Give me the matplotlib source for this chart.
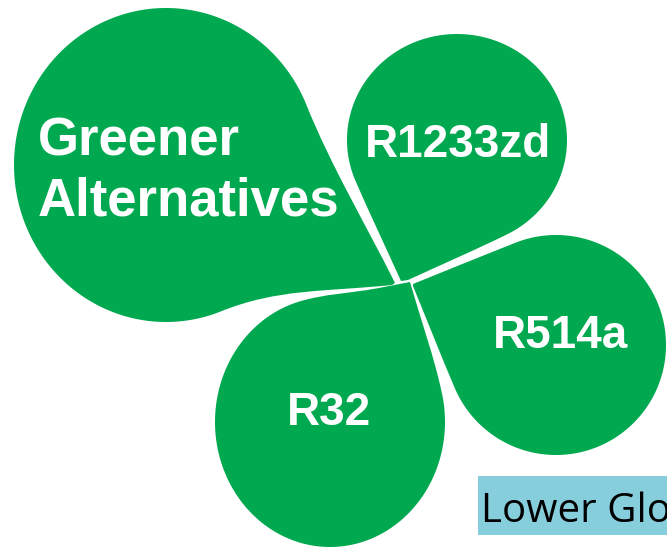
import numpy as np
import matplotlib
matplotlib.use("Agg")
import matplotlib.pyplot as plt
from matplotlib.path import Path
from matplotlib.patches import PathPatch, Rectangle

# ---- text content ----
title_lines = ["Greener", "Alternatives"]
labels = ["R1233zd", "R514a", "R32"]
footer_text = "Lower Global Warming Potential"

GREEN = "#00A84F"
BOX = "#87CEDD"

# ---- layout of the teardrops (pixel coords, y down) ----
# ellipse (cx, cy, rx, ry); two sides: (ellipse param angle deg, tip point, handle at ellipse, handle at tip, tip dir or None)
drops = [
    dict(e=(166, 165, 152, 157),
         sides=[(-22.5, (395, 283), 0.33, 0.33, None),
                (68.7, (392, 285), 0.35, 0.40, (-0.995, 0.10))]),
    dict(e=(457, 140, 110, 106),
         sides=[(157.3, (401, 281), 0.33, 0.33, None),
                (63.1, (408, 280), 0.33, 0.33, None)]),
    dict(e=(556, 345, 110, 110),
         sides=[(-111.5, (413, 284), 0.33, 0.33, None),
                (156.9, (413, 286), 0.33, 0.33, None)]),
    dict(e=(330, 422, 115, 125),
         sides=[(-13.0, (410, 282), 0.33, 0.33, None),
                (-106.4, (384, 287), 0.33, 0.40, (-0.98, 0.20))]),
]


def ell_pt(e, t):
    cx, cy, rx, ry = e
    return np.array([cx + rx * np.cos(t), cy + ry * np.sin(t)])


def side_curve(e, tdeg, tip, h0, h1, tdir):
    t = np.deg2rad(tdeg)
    cx, cy, rx, ry = e
    P = ell_pt(e, t)
    T = np.array(tip, float)
    L = np.linalg.norm(T - P)
    d = np.array([-rx * np.sin(t), ry * np.cos(t)])
    d /= np.linalg.norm(d)
    if np.dot(d, T - P) < 0:
        d = -d
    if tdir is None:
        u = (P - T) / L
    else:
        u = np.array(tdir, float)
        u /= np.linalg.norm(u)
    # cubic from tip to ellipse point
    return [T, T + h1 * L * u, P + h0 * L * d, P]


def drop_path(dr):
    e = dr["e"]
    cx, cy, rx, ry = e
    sA, sB = dr["sides"]
    cA = side_curve(e, *sA)
    cB = side_curve(e, *sB)
    tA = np.deg2rad(sA[0])
    tB = np.deg2rad(sB[0])
    tip = np.mean([np.array(sA[1]), np.array(sB[1])], axis=0)
    ttip = np.arctan2((tip[1] - cy) / ry, (tip[0] - cx) / rx)
    # choose arc direction from tA to tB that avoids ttip
    def contains(a0, a1, x, sgn):
        span = (sgn * (a1 - a0)) % (2 * np.pi)
        pos = (sgn * (x - a0)) % (2 * np.pi)
        return pos < span, span
    inside, span = contains(tA, tB, ttip, +1)
    sgn = +1
    if inside:
        sgn = -1
        _, span = contains(tA, tB, ttip, -1)
    ts = tA + sgn * np.linspace(0, span, 200)
    verts, codes = [], []
    verts.append(cA[0]); codes.append(Path.MOVETO)
    for p in cA[1:]:
        verts.append(p); codes.append(Path.CURVE4)
    for t in ts[1:]:
        verts.append(ell_pt(e, t)); codes.append(Path.LINETO)
    # from ellipse point B back to tip B (reverse cubic)
    for p in cB[::-1][1:]:
        verts.append(p); codes.append(Path.CURVE4)
    verts.append(cA[0]); codes.append(Path.LINETO)
    verts.append(cA[0]); codes.append(Path.CLOSEPOLY)
    return Path(np.array(verts), codes)


fig = plt.figure(figsize=(6.67, 5.49), dpi=100)
ax = fig.add_axes([0, 0, 1, 1])
ax.set_xlim(0, 667)
ax.set_ylim(549, 0)
ax.axis("off")

for dr in drops:
    ax.add_patch(PathPatch(drop_path(dr), facecolor=GREEN, edgecolor="none"))

bold = dict(family=["Liberation Sans", "DejaVu Sans"], weight="bold", color="white")
ax.text(38, 155, title_lines[0], fontsize=38, ha="left", va="baseline", **bold)
ax.text(38, 215, title_lines[1], fontsize=38, ha="left", va="baseline", **bold)

label_pos = [(458, 157), (561, 348), (329, 425)]
for lab, (x, y) in zip(labels, label_pos):
    ax.text(x, y, lab, fontsize=33, ha="center", va="baseline", **bold)

ax.add_patch(Rectangle((478, 476), 300, 59, facecolor=BOX, edgecolor="none"))
ax.text(481, 522, footer_text, fontsize=29, ha="left", va="baseline",
        family=["Open Sans", "DejaVu Sans"], color="black", clip_on=True)

fig.savefig("out.png", dpi=100)
